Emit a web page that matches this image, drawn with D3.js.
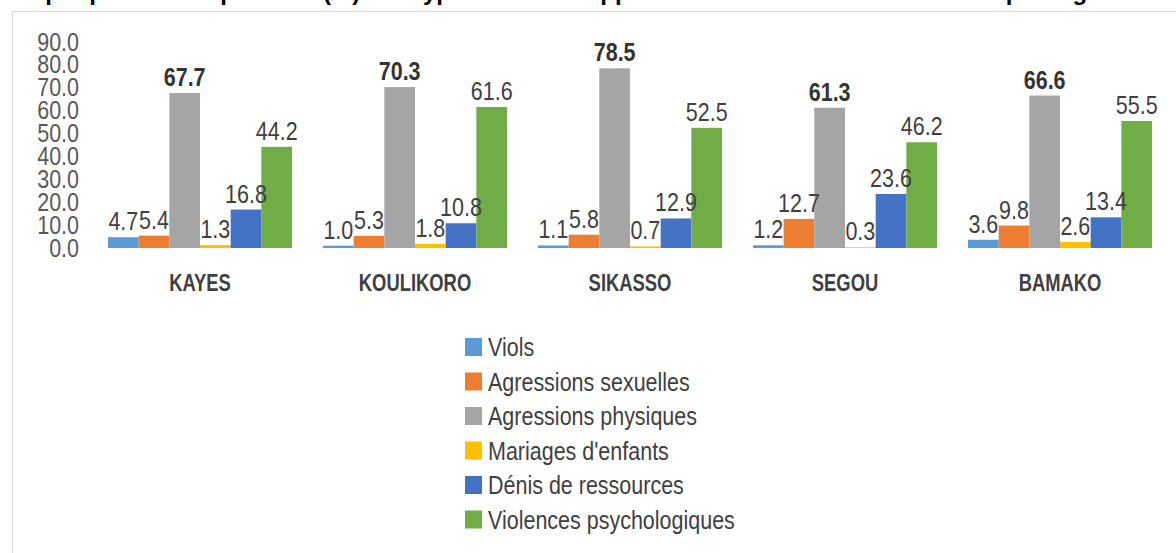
<!DOCTYPE html>
<html>
<head>
<meta charset="utf-8">
<script src="https://cdn.jsdelivr.net/npm/d3@7"></script>
<style>
  body { margin: 0; background: #fff; }
  svg { display: block; }
  text { font-family: "Liberation Sans", Arial, sans-serif; }
</style>
</head>
<body>
<div id="chart"></div>
<script>
// regions (x groups)
const regions = ["KAYES", "KOULIKORO", "SIKASSO", "SEGOU", "BAMAKO"];

// types of violence (series)
const types = ["Viols", "Agressions sexuelles", "Agressions physiques",
               "Mariages d'enfants", "Dénis de ressources", "Violences psychologiques"];
const typeColors = ["#5B9BD5", "#ED7D31", "#A5A5A5", "#FFC000", "#4472C4", "#70AD47"];

// one array per series, values in % per region
const viols         = [4.7, 1.0, 1.1, 1.2, 3.6];
const agrSexuelles  = [5.4, 5.3, 5.8, 12.7, 9.8];
const agrPhysiques  = [67.7, 70.3, 78.5, 61.3, 66.6];
const mariages      = [1.3, 1.8, 0.7, 0.3, 2.6];
const denis         = [16.8, 10.8, 12.9, 23.6, 13.4];
const psycho        = [44.2, 61.6, 52.5, 46.2, 55.5];

const seriesValues = [viols, agrSexuelles, agrPhysiques, mariages, denis, psycho];

const yTicks = [0, 10, 20, 30, 40, 50, 60, 70, 80, 90];

const width = 1176, height = 553;
const narrow = 0.86; // squeeze text like the narrow font of the original

const svg = d3.select("#chart").append("svg")
    .attr("width", width)
    .attr("height", height);

// title, cut at the top of the picture
svg.append("text")
    .attr("transform", "translate(4,0) scale(1.0,1)")
    .style("font-weight", "bold")
    .style("font-size", "24px")
    .attr("fill", "#000")
    .text("Graphique n°4 : Répartition (%) des types de VBG rapportés selon la zone de résidence par région");

// chart area frame
svg.append("rect")
    .attr("x", 12.5)
    .attr("y", 11.5)
    .attr("width", 1200)
    .attr("height", 600)
    .attr("fill", "#fff")
    .attr("stroke", "#d9d9d9");

const y = d3.scaleLinear().domain([0, 90]).range([248, 42]);

const x0 = d3.scaleBand()
    .domain(regions)
    .range([92.5, 1167.5])
    .paddingInner(0.144)
    .paddingOuter(0.072);

const x1 = d3.scaleBand()
    .domain(types)
    .range([0, x0.bandwidth()]);

// y axis, labels only
const yAxis = svg.append("g")
    .attr("transform", "translate(79,0)")
    .call(d3.axisLeft(y).tickValues(yTicks).tickFormat(d3.format(".1f")).tickSize(0).tickPadding(0));
yAxis.select(".domain").remove();
yAxis.selectAll("text")
    .attr("x", 0)
    .attr("transform", "scale(" + narrow + ",1)")
    .attr("fill", "#595959")
    .style("font-size", "25px");

// bars
const groups = svg.append("g").selectAll("g")
    .data(regions)
    .enter().append("g")
    .attr("transform", function(d) { return "translate(" + x0(d) + ",0)"; });

function rows(d, i) {
    return types.map(function(t, j) { return { type: t, idx: j, value: seriesValues[j][i] }; });
}

groups.selectAll("rect")
    .data(rows)
    .enter().append("rect")
    .attr("x", function(d) { return x1(d.type); })
    .attr("y", function(d) { return y(d.value); })
    .attr("width", x1.bandwidth())
    .attr("height", function(d) { return y(0) - y(d.value); })
    .attr("fill", function(d) { return typeColors[d.idx]; });

groups.selectAll("text.val")
    .data(rows)
    .enter().append("text")
    .attr("class", "val")
    .attr("transform", function(d) {
        return "translate(" + (x1(d.type) + x1.bandwidth() / 2) + "," + (y(d.value) - 7) + ") scale(" + narrow + ",1)";
    })
    .attr("text-anchor", "middle")
    .attr("fill", function(d) { return d.idx === 2 ? "#333" : "#404040"; })
    .style("font-weight", function(d) { return d.idx === 2 ? "bold" : "normal"; })
    .style("font-size", "25px")
    .text(function(d) { return d3.format(".1f")(d.value); });

// region labels
svg.append("g").selectAll("text")
    .data(regions)
    .enter().append("text")
    .attr("transform", function(d) {
        return "translate(" + (x0(d) + x0.bandwidth() / 2) + ",291) scale(0.8,1)";
    })
    .attr("text-anchor", "middle")
    .attr("fill", "#404040")
    .style("font-weight", "bold")
    .style("font-size", "23px")
    .text(function(d) { return d; });

// legend
const legend = svg.append("g").selectAll("g")
    .data(types)
    .enter().append("g")
    .attr("transform", function(d, i) { return "translate(465," + (347 + i * 34.5) + ")"; });

legend.append("rect")
    .attr("x", 0)
    .attr("y", -9)
    .attr("width", 17)
    .attr("height", 18)
    .attr("fill", function(d, i) { return typeColors[i]; });

legend.append("text")
    .attr("transform", "translate(23,9) scale(" + narrow + ",1)")
    .attr("fill", "#404040")
    .style("font-size", "25px")
    .text(function(d) { return d; });
</script>
</body>
</html>
